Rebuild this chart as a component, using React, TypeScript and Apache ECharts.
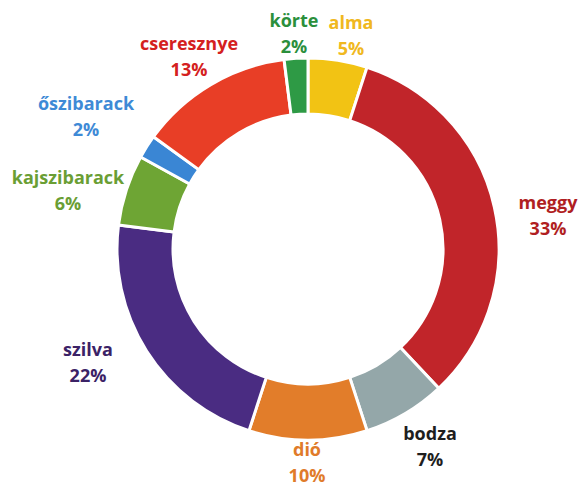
import React, { useEffect, useRef } from "react";
import * as echarts from "echarts";

const CATEGORIES = ["alma", "meggy", "bodza", "dió", "szilva", "kajszibarack", "őszibarack", "cseresznye", "körte"];
const VALUES = [5, 33, 7, 10, 22, 6, 2, 13, 2];
const SLICE_COLORS = ["#f2c314", "#c1252a", "#94a7a9", "#e27d2a", "#4a2c82", "#6ea534", "#3a86d4", "#e83e26", "#2e9a45"];
const LABEL_COLORS = ["#f0b820", "#b01e22", "#1e1e1e", "#e07b2a", "#3b2266", "#6a9e34", "#3e8ad6", "#d42020", "#2b8f3c"];
const LABEL_POS: [number, number][] = [
  [351, 35],
  [548, 215],
  [430, 446],
  [307, 462],
  [88, 362],
  [68, 190],
  [86, 116],
  [189, 56],
  [294, 33],
];

export default function App() {
  const ref = useRef<HTMLDivElement>(null);
  useEffect(() => {
    document.body.style.margin = "0";
    const chart = echarts.init(ref.current!, undefined, { renderer: "svg" });
    chart.setOption({
      animation: false,
      series: [
        {
          type: "pie",
          center: [308, 249],
          radius: [135, 191],
          startAngle: 90,
          clockwise: true,
          avoidLabelOverlap: false,
          emphasis: { disabled: true },
          labelLine: { show: false },
          label: {
            show: true,
            position: "outside",
            formatter: "{b}\n{c}%",
            fontFamily: "Open Sans",
            fontWeight: "bold",
            fontSize: 18,
            lineHeight: 26,
            align: "center",
          },
          labelLayout: (params: any) => ({
            x: LABEL_POS[params.dataIndex][0],
            y: LABEL_POS[params.dataIndex][1],
            align: "center",
            verticalAlign: "middle",
          }),
          itemStyle: { borderColor: "#ffffff", borderWidth: 3 },
          data: CATEGORIES.map((name, i) => ({
            name,
            value: VALUES[i],
            itemStyle: { color: SLICE_COLORS[i] },
            label: { color: LABEL_COLORS[i] },
          })),
        },
      ],
    });
    return () => chart.dispose();
  }, []);
  return <div ref={ref} style={{ width: 580, height: 488 }} />;
}
